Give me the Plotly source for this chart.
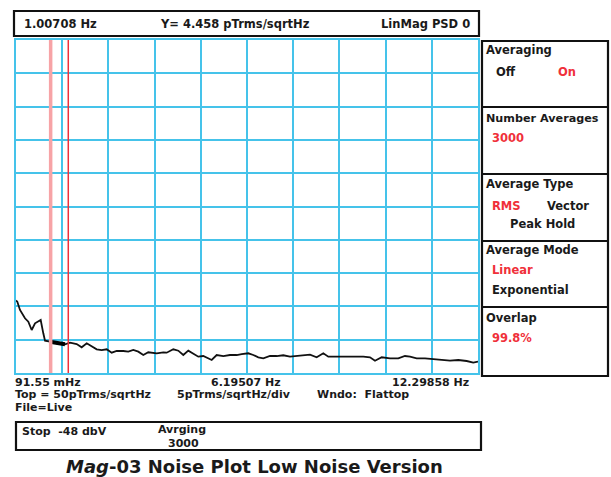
import plotly.graph_objects as go

# ---- data ----
freq_hz = [0.09155, 0.126, 0.197, 0.329, 0.417, 0.506, 0.594, 0.681, 0.744, 0.813, 0.858,
           0.990, 1.167, 1.386, 1.518, 1.695, 1.827, 1.960, 2.092, 2.224, 2.356, 2.488,
           2.620, 2.752, 2.926, 3.059, 3.191, 3.323, 3.455, 3.587, 3.809, 3.984, 4.073,
           4.248, 4.380, 4.512, 4.644, 4.776, 4.908, 5.040, 5.172, 5.262, 5.394, 5.569,
           5.746, 5.923, 6.055, 6.229, 6.361, 6.494, 6.626, 6.803, 6.980, 7.154, 7.331,
           7.508, 7.683, 7.860, 8.036, 8.211, 8.343, 8.565, 8.829, 9.048, 9.268, 9.445,
           9.577, 9.754, 9.973, 10.192, 10.369, 10.502, 10.678, 10.898, 11.117, 11.339,
           11.559, 11.778, 12.000, 12.174, 12.29858]
psd_pt = [10.9, 10.71, 9.46, 8.21, 7.70, 6.46, 7.46, 7.70, 7.96, 5.96, 4.85,
          4.70, 4.46, 4.31, 4.55, 4.35, 3.86, 4.46, 3.95, 3.56, 3.45, 3.56,
          3.05, 3.30, 3.30, 3.20, 3.45, 3.20, 2.70, 3.11, 2.96, 3.11, 3.05,
          3.56, 3.35, 2.70, 3.35, 2.85, 2.45, 2.55, 2.21, 1.95, 2.70, 2.55,
          2.70, 2.70, 2.85, 2.96, 2.70, 2.36, 2.21, 2.55, 2.55, 2.66, 2.45,
          2.55, 2.66, 2.75, 2.36, 2.96, 2.45, 2.45, 2.55, 2.55, 2.45, 2.36,
          1.85, 2.36, 2.21, 2.21, 2.55, 2.45, 2.21, 2.21, 2.06, 1.95,
          1.85, 1.95, 1.80, 1.55, 1.70]

f_start, f_stop = 0.09155, 12.29858
y_top, y_div = 50, 5
marker_hz = 1.00708
marker2_hz = 1.473

W, H = 611, 477
L, R, T, B = 16, 478, 40, 373

def px(x):
    return (x - L) / (R - L)

def py(y):
    return (B - y) / (B - T)

FONT = "DejaVu Sans, sans-serif"
GRID = "#45c3ea"
RED = "#f0303a"

fig = go.Figure()
fig.add_trace(go.Scatter(x=freq_hz, y=psd_pt, mode="lines",
                         line=dict(color="#111", width=1.8), hoverinfo="skip",
                         showlegend=False))
# thicker piece near the marker
sel = [(f, v) for f, v in zip(freq_hz, psd_pt) if 0.99 <= f <= 1.39]
fig.add_trace(go.Scatter(x=[s[0] for s in sel], y=[s[1] for s in sel], mode="lines",
                         line=dict(color="#000", width=4), hoverinfo="skip",
                         showlegend=False))

shapes = []
shapes.append(dict(type="line", xref="x", yref="paper", x0=marker_hz, x1=marker_hz,
                   y0=0, y1=1, line=dict(color="#f7a3a6", width=3.5), layer="above"))
shapes.append(dict(type="line", xref="x", yref="paper", x0=marker2_hz, x1=marker2_hz,
                   y0=0, y1=1, line=dict(color=RED, width=1.5), layer="above"))

def rect(x0, y0, x1, y1, w=2.2):
    shapes.append(dict(type="rect", xref="paper", yref="paper",
                       x0=px(x0), x1=px(x1), y0=py(y0), y1=py(y1),
                       line=dict(color="#111", width=w)))

def hline(x0, x1, y, w=2.2):
    shapes.append(dict(type="line", xref="paper", yref="paper",
                       x0=px(x0), x1=px(x1), y0=py(y), y1=py(y),
                       line=dict(color="#111", width=w)))

rect(14, 11, 479, 36)
rect(482, 41, 608, 376)
for yy in [107, 174, 241, 307]:
    hline(482, 608, yy)
rect(16, 422, 481, 450)

ann = []

def text(x, y, s, anchor="left", color="#1a1a1a", size=11.5, bold=True, family=FONT):
    ann.append(dict(xref="paper", yref="paper", x=px(x), y=py(y), text=(f"<b>{s}</b>" if bold else s),
                    showarrow=False, xanchor=anchor, yanchor="middle",
                    font=dict(family=family, size=size, color=color)))

text(22, 24, "1.00708 Hz")
text(235, 24, "Y= 4.458 pTrms/sqrtHz", "center")
text(472, 24, "LinMag PSD 0", "right")

text(484, 50, "Averaging")
text(494, 72, "Off")
text(556, 72, "On", color=RED)
text(484, 118, "Number Averages", size=11.2)
text(490, 138, "3000", color=RED)
text(484, 184, "Average Type")
text(490, 206, "RMS", color=RED)
text(545, 206, "Vector")
text(508, 224, "Peak Hold")
text(484, 250, "Average Mode")
text(490, 270, "Linear", color=RED)
text(490, 290, "Exponential")
text(484, 318, "Overlap")
text(490, 338, "99.8%", color=RED)

text(13, 382, "91.55 mHz", size=11)
text(246, 382, "6.19507 Hz", "center", size=11)
text(471, 382, "12.29858 Hz", "right", size=11)
text(13, 394.5, "Top = 50pTrms/sqrtHz", size=11)
text(175, 394.5, "5pTrms/sqrtHz/div", size=11)
text(315, 394.5, "Wndo:  Flattop", size=11)
text(13, 407.5, "File=Live", size=11)
text(20, 431, "Stop  -48 dbV", size=11)
text(156, 429, "Avrging", size=11)
text(166, 443, "3000", size=11)

text(254, 466, "<i>Mag</i>-03 Noise Plot Low Noise Version", "center", size=18, color="#1a1a1a")

fig.update_layout(
    width=W, height=H,
    margin=dict(l=L, r=W - R, t=T, b=H - B),
    paper_bgcolor="white", plot_bgcolor="white",
    shapes=shapes, annotations=ann,
    xaxis=dict(range=[f_start, f_stop], tick0=f_start, dtick=(f_stop - f_start) / 10,
               showgrid=True, gridcolor=GRID, gridwidth=2, showticklabels=False,
               zeroline=False, showline=True, linecolor=GRID, linewidth=2, mirror=True,
               ticks=""),
    yaxis=dict(range=[0, y_top], tick0=0, dtick=y_div,
               showgrid=True, gridcolor=GRID, gridwidth=2, showticklabels=False,
               zeroline=False, showline=True, linecolor=GRID, linewidth=2, mirror=True,
               ticks=""),
)

fig.write_html("out.html", config={"displayModeBar": False},
               post_script="document.body.style.margin='0';document.body.style.overflow='hidden';")
